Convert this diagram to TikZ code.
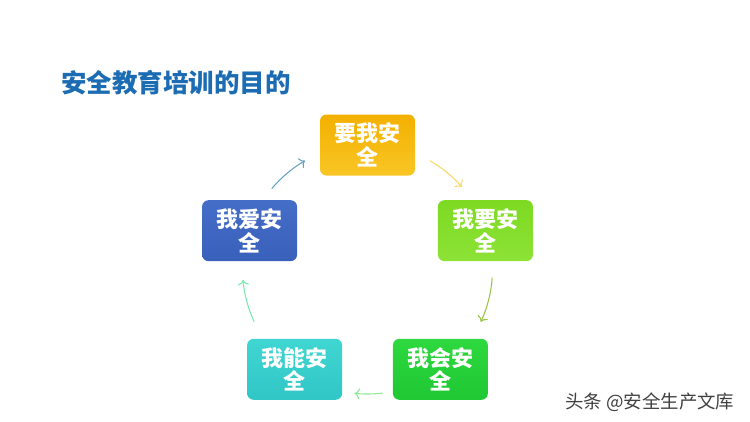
\documentclass[tikz,border=0pt]{standalone}
\usepackage{fontspec}
\newfontfamily\cjk{Noto Sans CJK SC}
\usepackage{xcolor}
\usetikzlibrary{arrows.meta}
\definecolor{titleblue}{HTML}{1C6CB3}
\definecolor{goldtop}{HTML}{F3B000}
\definecolor{goldbot}{HTML}{F9C625}
\definecolor{limetop}{HTML}{7DDA22}
\definecolor{limebot}{HTML}{8CE236}
\definecolor{greentop}{HTML}{2ED83E}
\definecolor{greenbot}{HTML}{1FC834}
\definecolor{tealtop}{HTML}{3FD6D2}
\definecolor{tealbot}{HTML}{30C6C6}
\definecolor{bluetop}{HTML}{456EC9}
\definecolor{bluebot}{HTML}{3960BA}

\begin{document}
\begin{tikzpicture}[
    box/.style={rounded corners=0.13cm, minimum width=1.9cm, minimum height=1.22cm,
                align=center, text=white, font=\cjk\bfseries\fontsize{12.5}{13.5}\selectfont},
    cyclearrow/.style={line width=0.6pt, -{To[length=3pt]}}
  ]
  \useasboundingbox (0,0) rectangle (15,8.42);

  % Title
  \node[anchor=west, text=titleblue, font=\cjk\bfseries\fontsize{14.5}{16}\selectfont]
    (title) at (1.1,6.76) {安全教育培训的目的};

  % Centre of the cycle
  \coordinate (o) at (7.35,3.04);

  % Five boxes round the circle
  \node[box, top color=goldtop, bottom color=goldbot]
    (want) at ([shift={(90:2.48)}]o) {要我安\\全};
  \node[box, top color=limetop, bottom color=limebot]
    (wish) at ([shift={(18:2.48)}]o) {我要安\\全};
  \node[box, top color=greentop, bottom color=greenbot]
    (know) at ([shift={(-54:2.48)}]o) {我会安\\全};
  \node[box, top color=tealtop, bottom color=tealbot]
    (able) at ([shift={(-126:2.48)}]o) {我能安\\全};
  \node[box, top color=bluetop, bottom color=bluebot]
    (love) at ([shift={(162:2.48)}]o) {我爱安\\全};

  % Arrows along the circle
  \draw[cyclearrow, goldbot!70] ([shift={(60:2.5)}]o) arc (60:41:2.5);
  \draw[cyclearrow, limetop!60!olive!80] ([shift={(-4:2.5)}]o) arc (-4:-25:2.5);
  \draw[cyclearrow, greentop!55] ([shift={(-83:2.5)}]o) arc (-83:-96:2.5);
  \draw[cyclearrow, tealbot!60!green!60] ([shift={(-155:2.5)}]o) arc (-155:-175:2.5);
  \draw[cyclearrow, bluetop!50!teal!70] ([shift={(140:2.5)}]o) arc (140:120:2.5);

  % Watermark
  \node[anchor=west, text=black!75, font=\cjk\fontsize{10.5}{12}\selectfont]
    (mark) at (11.18,0.38) {头条 @安全生产文库};
\end{tikzpicture}
\end{document}
